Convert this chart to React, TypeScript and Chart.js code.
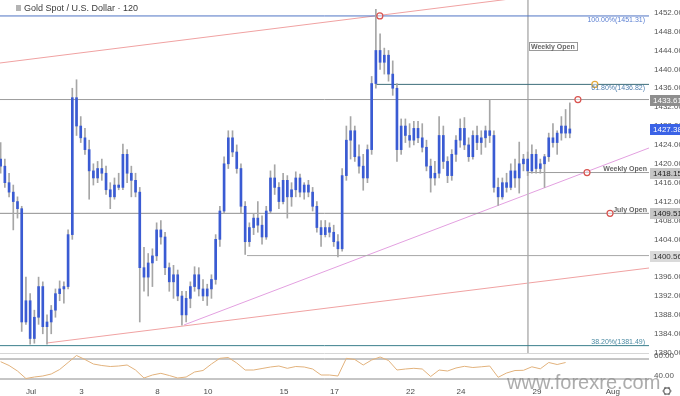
import React, { useEffect, useRef } from 'react';
import { Chart, registerables } from 'chart.js';

Chart.register(...registerables);

// ---------------- data ----------------
const opens = [
  1421, 1419.5, 1416, 1414, 1412, 1410.5, 1386.5, 1391, 1383, 1387.5,
  1394, 1385.5, 1386.5, 1389, 1392.5, 1393.5, 1394, 1405, 1434, 1428,
  1425.5, 1423, 1418.5, 1417, 1419, 1418, 1414.5, 1413, 1415.5, 1415,
  1422, 1418, 1416.5, 1414, 1398, 1396, 1399, 1400.5, 1406, 1404.5,
  1398, 1395, 1396.5, 1392, 1388, 1391.5, 1394, 1396.5, 1393.5, 1392,
  1393.5, 1395.5, 1404, 1410, 1420, 1425.5, 1422.5, 1419, 1411, 1403.5,
  1406.5, 1408.5, 1407, 1404.5, 1410, 1417, 1415, 1412, 1416.5, 1413,
  1414.5, 1417, 1414, 1415.5, 1414, 1411, 1406.5, 1405, 1406.5, 1405.5,
  1403.5, 1402, 1417.5, 1425, 1427, 1421.5, 1419.5, 1417, 1423, 1437,
  1444, 1441.5, 1443, 1439, 1436, 1423, 1428, 1426, 1425, 1427.5,
  1425.5, 1423.5, 1419.5, 1417, 1418, 1426, 1420.5, 1417.5, 1422, 1425,
  1427.5, 1424, 1421.5, 1426, 1424.5, 1425.5, 1427, 1426, 1415, 1413,
  1416, 1415, 1418.5, 1417, 1420, 1421, 1418.5, 1422, 1419, 1420,
  1421.5, 1425.5, 1424.5, 1426.5, 1428, 1426.5,
];
const highs = [
  1424.5, 1421, 1418, 1415.5, 1413, 1411, 1396, 1392.5, 1389, 1396,
  1395, 1388, 1390, 1393.5, 1395.2, 1395, 1406, 1436, 1437.8, 1430,
  1427.5, 1425, 1420, 1420.5, 1421, 1419.5, 1416, 1417, 1418, 1424.2,
  1423, 1419.5, 1418, 1415, 1402.3, 1401, 1402, 1407.5, 1408, 1405.5,
  1399, 1398.5, 1397.5, 1393, 1393, 1395, 1398.2, 1398, 1395.5, 1394.5,
  1396.5, 1405, 1411, 1421.5, 1427, 1427, 1424, 1420, 1412, 1407.5,
  1409.5, 1412, 1409, 1411, 1418.5, 1419.8, 1416, 1418, 1417.5, 1416,
  1418.3, 1417.8, 1416, 1416.5, 1415, 1412, 1408, 1408, 1407.5, 1407,
  1405, 1419, 1428, 1430, 1428, 1424, 1422, 1424, 1438.5, 1452.7,
  1447.5, 1444.5, 1444, 1441.8, 1437, 1429.5, 1429.5, 1428.5, 1429, 1429,
  1428.5, 1425, 1421, 1420.5, 1430, 1428, 1421.5, 1423, 1426, 1429.5,
  1429.8, 1425.5, 1427, 1428, 1427, 1428, 1433.5, 1427, 1417, 1417,
  1418, 1420, 1421, 1424.6, 1422, 1422.5, 1424, 1423, 1421, 1422,
  1426.5, 1428.5, 1427, 1430, 1431.5, 1432.9,
];
const lows = [
  1418, 1415, 1413, 1406, 1408.5, 1384.5, 1386, 1381.8, 1382, 1386,
  1384, 1381.8, 1384, 1387.5, 1391, 1390.5, 1393.5, 1404, 1426, 1424.5,
  1422, 1412.5, 1415.5, 1416, 1416.5, 1413.5, 1410.5, 1412.5, 1414.5, 1414.5,
  1416, 1413, 1413, 1386.5, 1393, 1392, 1394, 1399.5, 1403, 1396.5,
  1393, 1391.5, 1391, 1385.8, 1386.5, 1389.5, 1393, 1392, 1391, 1390,
  1391.5, 1394.5, 1402.5, 1409.5, 1419, 1421.5, 1418, 1409.5, 1400.8, 1402.5,
  1405, 1405.5, 1403, 1404, 1409.5, 1413.5, 1410.5, 1411.5, 1408.5, 1411,
  1413, 1413, 1412.5, 1413, 1410, 1405.5, 1402.5, 1404.5, 1404.5, 1402.5,
  1400.3, 1401.5, 1416.5, 1421, 1420.5, 1418, 1414.4, 1416, 1422, 1436,
  1440, 1439, 1437.5, 1434.5, 1420.5, 1422, 1424.5, 1423.5, 1424, 1424.5,
  1422.5, 1418.5, 1414, 1415.5, 1417, 1419, 1416, 1416.5, 1420.5, 1423.5,
  1423, 1420.5, 1421, 1423, 1422, 1423.5, 1424.5, 1414, 1411.2, 1412.5,
  1414, 1414.5, 1415, 1413.8, 1418.5, 1417.5, 1418, 1418, 1418, 1415,
  1420.5, 1423.5, 1422, 1425, 1425.5, 1425.5,
];
const closes = [
  1419.5, 1416, 1414, 1412, 1410.5, 1386.5, 1391, 1383, 1387.5, 1394,
  1385.5, 1386.5, 1389, 1392.5, 1393.5, 1394, 1405, 1434, 1428, 1425.5,
  1423, 1418.5, 1417, 1419, 1418, 1414.5, 1413, 1415.5, 1415, 1422,
  1418, 1416.5, 1414, 1398, 1396, 1399, 1400.5, 1406, 1404.5, 1398,
  1395, 1396.5, 1392, 1388, 1391.5, 1394, 1396.5, 1393.5, 1392, 1393.5,
  1395.5, 1404, 1410, 1420, 1425.5, 1422.5, 1419, 1411, 1403.5, 1406.5,
  1408.5, 1407, 1404.5, 1410, 1417, 1415, 1412, 1416.5, 1413, 1414.5,
  1417, 1414, 1415.5, 1414, 1411, 1406.5, 1405, 1406.5, 1405.5, 1403.5,
  1402, 1417.5, 1425, 1427, 1421.5, 1419.5, 1417, 1423, 1437, 1444,
  1441.5, 1443, 1439, 1436, 1423, 1428, 1426, 1425, 1427.5, 1425.5,
  1423.5, 1419.5, 1417, 1418, 1426, 1420.5, 1417.5, 1422, 1425, 1427.5,
  1424, 1421.5, 1426, 1424.5, 1425.5, 1427, 1426, 1415, 1413, 1416,
  1415, 1418.5, 1417, 1420, 1421, 1418.5, 1422, 1419, 1420, 1421.5,
  1425.5, 1424.5, 1426.5, 1428, 1426.5, 1427.38,
];
// oscillator in the lower pane, one reading every second bar
const rsiValues = [
  57.3, 53.5, 48, 40.5, 42, 43, 45, 49.5, 56.5, 63.5,
  59.5, 55, 53.5, 52.5, 53, 54, 49, 41, 44, 45.7,
  43.5, 41, 42, 47, 48.5, 55, 60.7, 61.5, 56, 49,
  49, 50.5, 52, 53, 50.7, 52.5, 52, 50, 44, 44,
  43, 60.7, 59.5, 54, 59, 62, 58.5, 49, 50, 50.7,
  50, 42.5, 49, 48, 51, 52.7, 51.5, 52.2, 53, 41.7,
  46, 48.5, 48.7, 52.2, 50.2, 56.5, 54.5, 56.5,
];

const xTickDays = [0, 2, 5, 7, 10, 12, 15, 17, 20, 23];
const xTickLabels = ['Jul', '3', '8', '10', '15', '17', '22', '24', '29', 'Aug'];
const priceTicks = [1452, 1448, 1444, 1440, 1436, 1432, 1428, 1424, 1420, 1416, 1412, 1408, 1404, 1400, 1396, 1392, 1388, 1384, 1380];
const rsiTicks = [60, 40];

const fibValues = [1451.31, 1436.82, 1381.49];
const fibLabels = ['100.00%(1451.31)', '61.80%(1436.82)', '38.20%(1381.49)'];
const resistance = 1433.61;
const weeklyOpen = 1418.15;
const julyOpen = 1409.51;
const swingLevel = 1400.56;
const lastPrice = 1427.38;
const titleText = 'Gold Spot / U.S. Dollar · 120';

// ---------------- layout (axis bounds / anchor positions) ----------------
const FIRST_BAR_DAY = -1.2;
const BARS_PER_DAY = 6;
const X_MIN = -1.225;
const X_MAX = 24.43;
const PRICE_MIN = 1379.93;
const PRICE_MAX = 1454.69;
const RSI_MIN = 38;
const RSI_MAX = 66;
const WEEK_START_DAY = 19.644;
const FIB618_START_DAY = 13.64;
const SWING_START_DAY = 8.54;
const upperChannel = [[X_MIN, 1441.35], [X_MAX, 1458.6]];
const lowerChannel = [[0.632, 1382.05], [X_MAX, 1397.93]];
const risingTrend = [[6.047, 1385.86], [X_MAX, 1423.35]];
const redMarks = [[13.79, 1451.31], [21.62, resistance], [21.98, weeklyOpen], [22.89, julyOpen]];
const orangeMarks = [[22.29, 1436.82]];

const FONT = '"Liberation Sans", Arial, sans-serif';
const NARROW = '"Liberation Sans Narrow", "Liberation Sans", Arial, sans-serif';

const barDay = (i: number) => FIRST_BAR_DAY + i / BARS_PER_DAY;
const pts = (arr: number[][]) => arr.map(([x, y]) => ({ x, y }));
const lineDs = (data: any[], color: string, axis = 'y', width = 1, order = 5) => ({
  type: 'line', data, borderColor: color, borderWidth: width, pointRadius: 0,
  fill: false, tension: 0, yAxisID: axis, xAxisID: 'x', order,
});
const noPad = (s: any) => { s.paddingTop = 0; s.paddingBottom = 0; s.paddingLeft = 0; s.paddingRight = 0; };

const overlay = {
  id: 'overlay',
  beforeDatasetsDraw(chart: any) {
    const { ctx, chartArea } = chart;
    const top = Math.round(chart.scales.yR.top) + 0.5;
    ctx.save();
    ctx.strokeStyle = '#d6d6d6';
    ctx.lineWidth = 1;
    ctx.beginPath();
    ctx.moveTo(chartArea.left, top);
    ctx.lineTo(chartArea.right, top);
    ctx.stroke();
    ctx.restore();
  },
  afterDraw(chart: any) {
    const { ctx, chartArea: ca, scales } = chart;
    const xs = scales.x, ys = scales.y;
    ctx.save();
    // title
    ctx.fillStyle = '#b4b4b4';
    ctx.fillRect(16, 5, 5, 6);
    ctx.fillStyle = '#3a3a3a';
    ctx.font = `9px ${FONT}`;
    ctx.textAlign = 'left';
    ctx.textBaseline = 'alphabetic';
    ctx.fillText(titleText, 24, 11);

    // fib labels
    ctx.font = `7px ${NARROW}`;
    ctx.textAlign = 'right';
    const fibColors = ['#5a7fd2', '#4f7fae', '#4a8aa2'];
    fibValues.forEach((v, i) => {
      const py = ys.getPixelForValue(v);
      ctx.fillStyle = fibColors[i];
      ctx.fillText(fibLabels[i], ca.right - 4, i === 2 ? py - 1.5 : py + 6);
    });

    // level names
    ctx.font = `bold 7px ${FONT}`;
    ctx.fillStyle = '#666';
    ctx.fillText('Weekly Open', ca.right - 2, ys.getPixelForValue(weeklyOpen) - 1.5);
    ctx.fillText('July Open', ca.right - 2, ys.getPixelForValue(julyOpen) - 1);

    // boxed weekly open note
    const bx = xs.getPixelForValue(WEEK_START_DAY) + 1;
    const by = ys.getPixelForValue(1444.9);
    const tw = ctx.measureText('Weekly Open').width;
    ctx.fillStyle = '#fff';
    ctx.fillRect(bx, by - 4, tw + 4, 8);
    ctx.strokeStyle = '#9a9a9a';
    ctx.lineWidth = 1;
    ctx.strokeRect(Math.round(bx) + 0.5, Math.round(by - 4) + 0.5, Math.round(tw + 4), 8);
    ctx.fillStyle = '#666';
    ctx.textAlign = 'left';
    ctx.fillText('Weekly Open', bx + 2, by + 2.5);

    // price boxes on axis
    const boxes: [number, string, string][] = [
      [resistance, '#8e8e8e', '#ffffff'],
      [lastPrice, '#3b63e6', '#ffffff'],
      [weeklyOpen, '#c6c6c6', '#222222'],
      [julyOpen, '#c6c6c6', '#222222'],
      [swingLevel, '#dadada', '#333333'],
    ];
    ctx.font = `8px ${FONT}`;
    ctx.textBaseline = 'middle';
    boxes.forEach(([v, bg, fg]) => {
      const py = ys.getPixelForValue(v);
      ctx.fillStyle = bg;
      ctx.fillRect(ca.right + 1, Math.round(py) - 5, 31, 11);
      ctx.fillStyle = fg;
      ctx.fillText(v.toFixed(2), ca.right + 4, Math.round(py) + 0.5);
    });

    // watermark
    ctx.textBaseline = 'alphabetic';
    ctx.font = `20px ${FONT}`;
    ctx.fillStyle = 'rgba(140,140,140,0.72)';
    ctx.fillText('www.forexre.com', 507, 389);

    // settings gear
    ctx.strokeStyle = '#666';
    ctx.lineWidth = 1.2;
    ctx.beginPath();
    ctx.arc(667, 391, 3.2, 0, Math.PI * 2);
    ctx.stroke();
    for (let k = 0; k < 6; k++) {
      const a = (k * Math.PI) / 3;
      ctx.beginPath();
      ctx.moveTo(667 + Math.cos(a) * 3.2, 391 + Math.sin(a) * 3.2);
      ctx.lineTo(667 + Math.cos(a) * 4.6, 391 + Math.sin(a) * 4.6);
      ctx.stroke();
    }
    ctx.restore();
  },
};

export default function App() {
  const ref = useRef<HTMLCanvasElement>(null);
  useEffect(() => {
    document.body.style.margin = '0';
    Chart.defaults.font.family = FONT;
    const wickData = highs.map((h, i) => ({ x: barDay(i), y: [lows[i], h] }));
    const bodyData = opens.map((o, i) => ({ x: barDay(i), y: [o, closes[i]] }));
    const rsiData = rsiValues.map((v, k) => ({ x: barDay(k * 2), y: v }));
    const full = (v: number, start = X_MIN) => [{ x: start, y: v }, { x: X_MAX, y: v }];

    const datasets: any[] = [
      { type: 'bar', data: wickData, backgroundColor: '#a6a6a6', barThickness: 1, grouped: false, yAxisID: 'y', order: 2 },
      { type: 'bar', data: bodyData, backgroundColor: '#3a5bd3', barThickness: 2, grouped: false, yAxisID: 'y', order: 1 },
      lineDs(full(fibValues[0]), '#4f74c4'),
      lineDs(full(fibValues[1], FIB618_START_DAY), '#3d6e7a'),
      lineDs(full(fibValues[2]), '#3b7f8c'),
      lineDs(full(resistance), '#9c9c9c'),
      lineDs(full(weeklyOpen, WEEK_START_DAY), '#9c9c9c'),
      lineDs(full(julyOpen), '#8f8f8f'),
      lineDs(full(swingLevel, SWING_START_DAY), '#a8a8a8'),
      lineDs([{ x: WEEK_START_DAY, y: PRICE_MAX }, { x: WEEK_START_DAY, y: PRICE_MIN }], '#bdbdbd'),
      lineDs(pts(upperChannel), '#f0a2a2'),
      lineDs(pts(lowerChannel), '#f0a2a2'),
      lineDs(pts(risingTrend), '#e3a0e0'),
      lineDs(full(rsiTicks[0]), '#8c8c8c', 'yR'),
      lineDs(full(rsiTicks[1]), '#8c8c8c', 'yR'),
      lineDs(rsiData, '#e2b27c', 'yR', 1, 3),
      {
        type: 'line', data: pts(redMarks), showLine: false, pointRadius: 3, pointBorderWidth: 1.2,
        pointBorderColor: '#d9534f', pointBackgroundColor: 'rgba(255,255,255,0.5)', yAxisID: 'y', order: 0,
      },
      {
        type: 'line', data: pts(orangeMarks), showLine: false, pointRadius: 3, pointBorderWidth: 1.2,
        pointBorderColor: '#e3a93a', pointBackgroundColor: 'rgba(255,255,255,0.5)', yAxisID: 'y', order: 0,
      },
    ];

    const chart = new Chart(ref.current as HTMLCanvasElement, {
      type: 'bar',
      data: { datasets },
      options: {
        responsive: false,
        animation: false,
        devicePixelRatio: 1,
        events: [],
        layout: { padding: 0, autoPadding: false },
        plugins: { legend: { display: false }, tooltip: { enabled: false }, title: { display: false } },
        scales: {
          x: {
            type: 'linear', min: X_MIN, max: X_MAX, offset: false,
            grid: { display: false, drawTicks: false }, border: { display: false },
            afterBuildTicks: (s: any) => { s.ticks = xTickDays.map((v) => ({ value: v })); },
            afterFit: (s: any) => { s.height = 15; noPad(s); },
            ticks: {
              autoSkip: false, maxRotation: 0, padding: 6, color: '#4a4a4a', font: { size: 8 },
              callback: (v: any) => { const k = xTickDays.indexOf(Number(v)); return k >= 0 ? xTickLabels[k] : ''; },
            },
          },
          y: {
            type: 'linear', position: 'right', stack: 'panes', stackWeight: 353,
            min: PRICE_MIN, max: PRICE_MAX,
            grid: { display: false, drawTicks: false }, border: { display: false },
            afterBuildTicks: (s: any) => { s.ticks = priceTicks.map((v) => ({ value: v })); },
            afterFit: (s: any) => { s.width = 31; noPad(s); },
            ticks: { autoSkip: false, padding: 5, color: '#555', font: { size: 8 }, callback: (v: any) => Number(v).toFixed(2) },
          },
          yR: {
            type: 'linear', position: 'right', stack: 'panes', stackWeight: 28,
            min: RSI_MIN, max: RSI_MAX,
            grid: { display: false, drawTicks: false }, border: { display: false },
            afterBuildTicks: (s: any) => { s.ticks = rsiTicks.map((v) => ({ value: v })); },
            afterFit: (s: any) => { s.width = 31; noPad(s); },
            ticks: { autoSkip: false, padding: 5, labelOffset: -3, color: '#555', font: { size: 8 }, callback: (v: any) => Number(v).toFixed(2) },
          },
        },
      } as any,
      plugins: [overlay],
    } as any);
    return () => chart.destroy();
  }, []);
  return (
    <div style={{ width: 680, height: 396 }}>
      <canvas ref={ref} width={680} height={396} style={{ display: 'block', width: 680, height: 396 }} />
    </div>
  );
}
